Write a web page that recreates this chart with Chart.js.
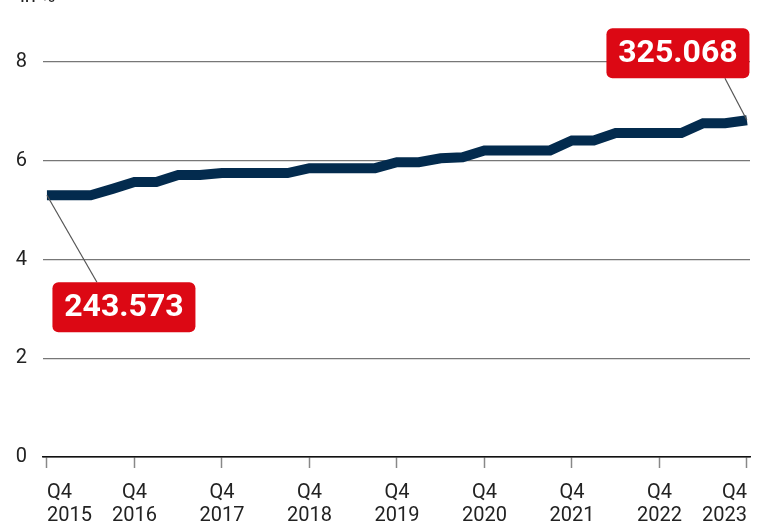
<!DOCTYPE html>
<html>
<head>
<meta charset="utf-8">
<script src="https://cdn.jsdelivr.net/npm/chart.js@4.4.0/dist/chart.umd.min.js"></script>
<style>
    body { margin: 0; background: #fff; overflow: hidden; }
    #wrap { position: relative; width: 764px; height: 526px; }
    #wrap canvas { display: block; }
    #unit { position: absolute; left: 20px; top: -17px; font: 20px Roboto, sans-serif; color: #222; }
</style>
</head>
<body>
<div id="wrap">
    <div id="unit">in %</div>
    <canvas id="shareChart" width="764" height="526"></canvas>
</div>
<script>
// Quarters shown on the x axis (Q4 2015 .. Q4 2023)
const quarters = [
    'Q4 2015',
    'Q1 2016', 'Q2 2016', 'Q3 2016', 'Q4 2016',
    'Q1 2017', 'Q2 2017', 'Q3 2017', 'Q4 2017',
    'Q1 2018', 'Q2 2018', 'Q3 2018', 'Q4 2018',
    'Q1 2019', 'Q2 2019', 'Q3 2019', 'Q4 2019',
    'Q1 2020', 'Q2 2020', 'Q3 2020', 'Q4 2020',
    'Q1 2021', 'Q2 2021', 'Q3 2021', 'Q4 2021',
    'Q1 2022', 'Q2 2022', 'Q3 2022', 'Q4 2022',
    'Q1 2023', 'Q2 2023', 'Q3 2023', 'Q4 2023'
];

// Share in percent
const shares = [
    5.30,
    5.30, 5.30, 5.43, 5.57,
    5.57, 5.71, 5.71, 5.75,
    5.75, 5.75, 5.75, 5.85,
    5.85, 5.85, 5.85, 5.97,
    5.97, 6.05, 6.07, 6.21,
    6.21, 6.21, 6.21, 6.41,
    6.41, 6.56, 6.56, 6.56,
    6.56, 6.76, 6.76, 6.82
];

const yTicks = [0, 2, 4, 6, 8];

// Callouts: which quarter, and the label text
const calloutQuarters = ['Q4 2015', 'Q4 2023'];
const calloutLabels = ['243.573', '325.068'];

// Plugin to draw the red callout boxes
const callouts = {
    id: 'callouts',
    afterDatasetsDraw(chart) {
        const ctx = chart.ctx;
        const x = chart.scales.x, y = chart.scales.y;
        // box centre offset from point, connector x offset on box edge
        const place = [
            { dx: 77, dy: 112, ax: -27, edge: 'top' },
            { dx: -69, dy: -67, ax: 47, edge: 'bottom' }
        ];
        const w = 143, h = 50, r = 6;
        calloutQuarters.forEach(function(q, k) {
            const i = quarters.indexOf(q);
            const px = x.getPixelForValue(i);
            const py = y.getPixelForValue(shares[i]);
            const p = place[k];
            const cx = px + p.dx, cy = py + p.dy;
            const ey = p.edge === 'top' ? cy - h / 2 : cy + h / 2;

            ctx.save();
            ctx.strokeStyle = '#555';
            ctx.lineWidth = 1.2;
            ctx.beginPath();
            ctx.moveTo(px, py);
            ctx.lineTo(cx + p.ax, ey);
            ctx.stroke();

            ctx.fillStyle = '#dc0814';
            ctx.beginPath();
            ctx.roundRect(cx - w / 2, cy - h / 2, w, h, r);
            ctx.fill();

            ctx.fillStyle = '#fff';
            ctx.font = 'bold 32px Roboto, sans-serif';
            ctx.textAlign = 'center';
            ctx.textBaseline = 'middle';
            ctx.fillText(calloutLabels[k], cx, cy + 1);
            ctx.restore();
        });
    }
};

const ctxShare = document.getElementById('shareChart').getContext('2d');
const shareChart = new Chart(ctxShare, {
    type: 'line',
    data: {
        datasets: [{
            data: shares.map((v, i) => ({ x: i, y: v })),
            borderColor: '#032b4e',
            borderWidth: 10,
            pointRadius: 0,
            tension: 0,
            borderCapStyle: 'butt',
            borderJoinStyle: 'miter',
            clip: false
        }]
    },
    options: {
        responsive: false,
        animation: false,
        layout: {
            padding: { top: 62, left: 16, right: 14, bottom: 0 }
        },
        scales: {
            x: {
                type: 'linear',
                min: -0.18,
                max: 32.14,
                afterBuildTicks: function(scale) {
                    scale.ticks = quarters
                        .map((q, i) => q.startsWith('Q4') ? { value: i } : null)
                        .filter(Boolean);
                },
                afterFit: function(scale) {
                    scale.paddingLeft = 0;
                    scale.paddingRight = 0;
                    scale.height = 69;
                },
                ticks: {
                    autoSkip: false,
                    maxRotation: 0,
                    align: 'inner',
                    padding: 13,
                    color: '#222',
                    font: { family: 'Roboto', size: 20, lineHeight: 1.15 },
                    callback: function(value) {
                        return quarters[value].split(' ');
                    }
                },
                grid: {
                    drawOnChartArea: false,
                    drawTicks: true,
                    tickLength: 11,
                    tickColor: '#888',
                    tickWidth: 1.5
                },
                border: { display: true, color: '#111', width: 1.5 }
            },
            y: {
                min: 0,
                max: 8,
                afterBuildTicks: function(scale) {
                    scale.ticks = yTicks.map(v => ({ value: v }));
                },
                afterFit: function(scale) {
                    scale.width = 27;
                    scale.paddingTop = 0;
                    scale.paddingBottom = 0;
                },
                ticks: {
                    padding: 16,
                    color: '#222',
                    font: { family: 'Roboto', size: 20 }
                },
                grid: {
                    drawTicks: false,
                    color: ctx => ctx.tick && ctx.tick.value === 0 ? '#111' : '#777',
                    lineWidth: 1.2
                },
                border: { display: false }
            }
        },
        plugins: {
            legend: { display: false },
            tooltip: { enabled: false }
        }
    },
    plugins: [callouts]
});
</script>
</body>
</html>
